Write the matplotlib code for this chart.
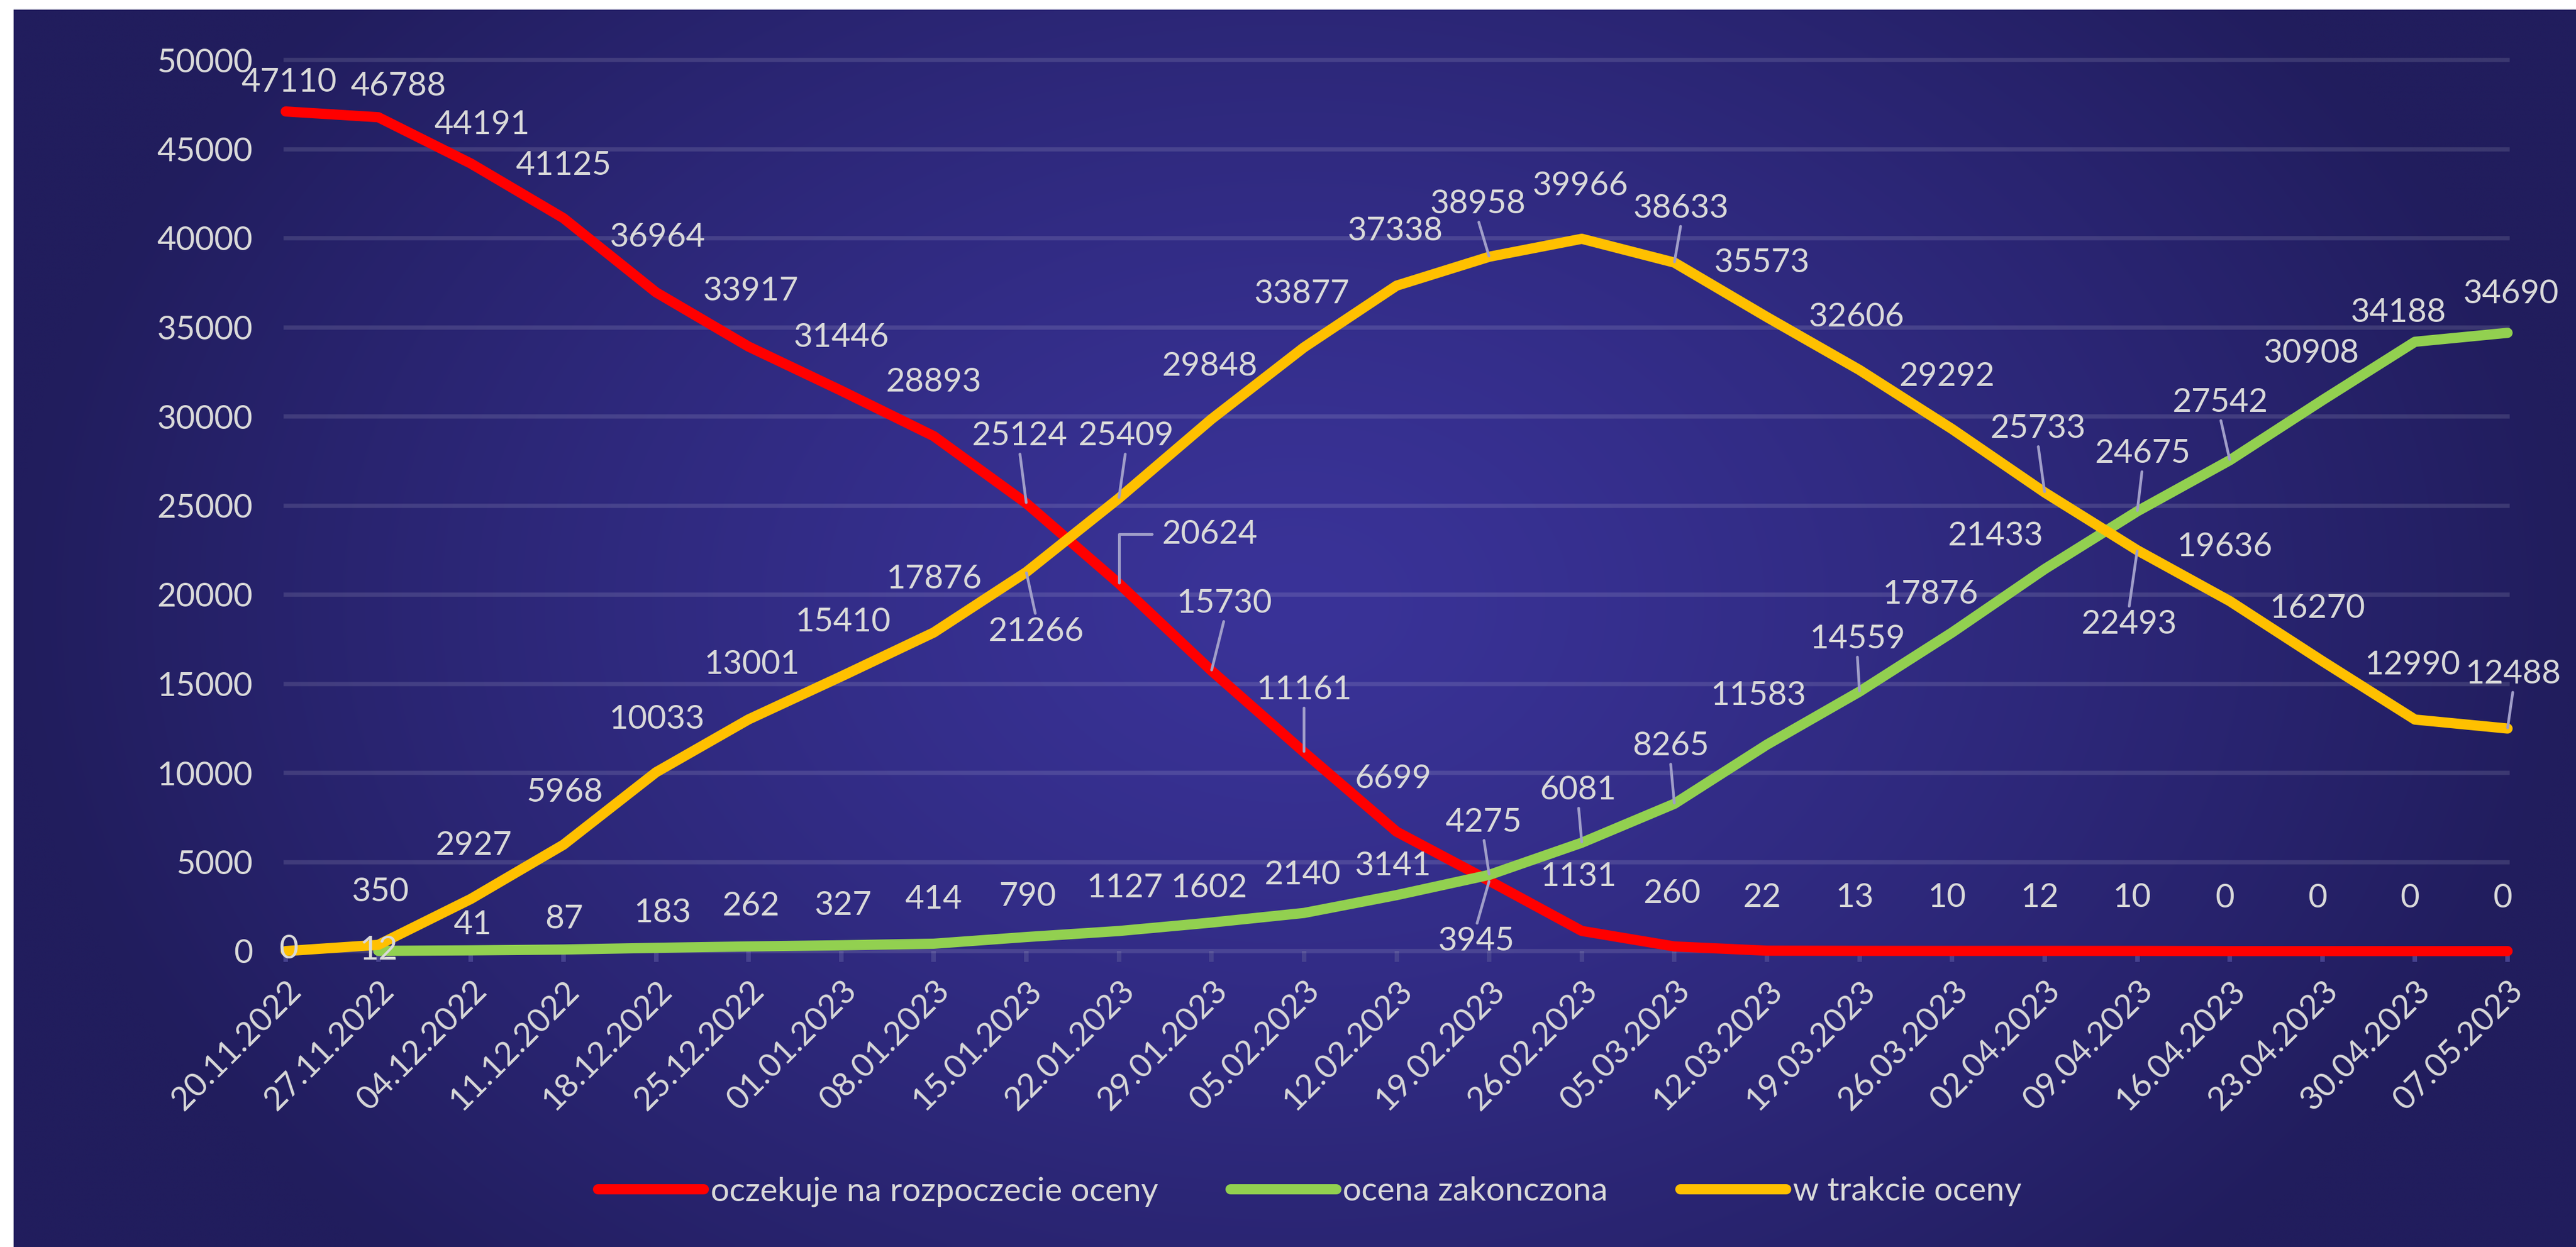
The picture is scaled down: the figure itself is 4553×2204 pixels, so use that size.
import numpy as np
import matplotlib
matplotlib.use('Agg')
import matplotlib.pyplot as plt

# dane
dates = ['20.11.2022', '27.11.2022', '04.12.2022', '11.12.2022', '18.12.2022',
         '25.12.2022', '01.01.2023', '08.01.2023', '15.01.2023', '22.01.2023',
         '29.01.2023', '05.02.2023', '12.02.2023', '19.02.2023', '26.02.2023',
         '05.03.2023', '12.03.2023', '19.03.2023', '26.03.2023', '02.04.2023',
         '09.04.2023', '16.04.2023', '23.04.2023', '30.04.2023', '07.05.2023']
oczekuje = [47110, 46788, 44191, 41125, 36964, 33917, 31446, 28893, 25124, 20624,
            15730, 11161, 6699, 3945, 1131, 260, 22, 13, 10, 12, 10, 0, 0, 0, 0]
zakonczona = [np.nan, 12, 41, 87, 183, 262, 327, 414, 790, 1127, 1602, 2140, 3141,
              4275, 6081, 8265, 11583, 14559, 17876, 21433, 24675, 27542, 30908,
              34188, 34690]
w_trakcie = [0, 350, 2927, 5968, 10033, 13001, 15410, 17876, 21266, 25409, 29848,
             33877, 37338, 38958, 39966, 38633, 35573, 32606, 29292, 25733, 22493,
             19636, 16270, 12990, 12488]
names = ['oczekuje na rozpoczecie oceny', 'ocena zakonczona', 'w trakcie oceny']

# polozenie etykiet (przesuniecie w pikselach od punktu)
off_red = [(6, 52), (35, 55), (20, 68), (0, 93), (3, 97), (4, 98), (0, 94), (0, 95),
           (-12, 119), (160, 87), (23, 119), (0, 110), (-6, 93), (-23, -107), (-6, 96),
           (-4, 93)] + [(-9, 94)] * 9
off_green = [(0, 0), (0, 1), (3, 45), (1, 54), (11, 62), (4, 71), (3, 70), (0, 78),
             (3, 72), (10, 76), (-4, 61), (-3, 67), (-6, 52), (-10, 93), (-6, 93),
             (-7, 102), (-15, 87), (-4, 93), (-38, 67), (-87, 58), (9, 102),
             (-17, 102), (-20, 83), (-29, 52), (6, 69)]
off_yellow = [(5, 3), (4, 93), (5, 94), (3, 93), (1, 93), (6, 97), (3, 96), (0, 94),
              (17, -105), (12, 110), (-3, 93), (-4, 94), (-3, 96), (-20, 93), (-3, 94),
              (12, 96), (-9, 96), (-5, 93), (-9, 93), (-12, 113), (-15, -131),
              (-9, 96), (-9, 93), (-4, 96), (10, 96)]
lead_red = [8, 10, 11, 13]
lead_green = [13, 14, 15, 17, 20, 21]
lead_yellow = [8, 9, 13, 15, 19, 20, 24]

W, H = 4553, 2204
DPI = 100
PT = 72.0 / DPI
FS = 42
TXT = '#D9D9D9'
LEAD = '#A09EC9'

plt.rcParams['font.family'] = ['Lato', 'DejaVu Sans']

fig = plt.figure(figsize=(W / DPI, H / DPI), dpi=DPI, facecolor='white')

# tlo z gradientem
bg = fig.add_axes([24 / W, 0, 1 - 24 / W, 1 - 17 / H], zorder=-5)
gx, gy = np.meshgrid(np.linspace(0, 1, 460), np.linspace(0, 1, 220))
t = np.sqrt(((gx - 0.5) / 0.5) ** 2 + ((gy - 0.48) / 0.75) ** 2)
t = np.clip(t, 0, 1) ** 1.3
c_mid = np.array([58, 51, 152]) / 255.0
c_edge = np.array([33, 29, 93]) / 255.0
img = c_mid[None, None, :] + (c_edge - c_mid)[None, None, :] * t[:, :, None]
bg.imshow(img, aspect='auto', extent=(0, 1, 0, 1), interpolation='bilinear')
bg.set_axis_off()

x0, x1, ytop, ybot = 505, 4432, 106, 1681
ax = fig.add_axes([x0 / W, 1 - ybot / H, (x1 - x0) / W, (ybot - ytop) / H])
ax.set_facecolor('none')
x = np.arange(len(dates))

colors = ['#FF0000', '#92D050', '#FFC000']
series = [oczekuje, zakonczona, w_trakcie]
lines = []
for s, c, n in zip(series, colors, names):
    ln, = ax.plot(x, s, color=c, lw=13, solid_capstyle='round', solid_joinstyle='round',
                  label=n, clip_on=False, zorder=3)
    lines.append(ln)

ax.set_xlim(0, len(dates) - 1)
ax.set_ylim(0, 50000)
ax.set_yticks(np.arange(0, 50001, 5000))
ax.set_yticklabels([str(v) for v in range(0, 50001, 5000)])
ax.set_xticks(x)
ax.set_xticklabels(dates, rotation=45, ha='right', va='top', rotation_mode='anchor')
ax.tick_params(axis='y', length=0, pad=58 * PT, labelsize=FS, labelcolor=TXT)
ax.tick_params(axis='x', length=19 * PT, width=8 * PT, color='#47438F', pad=24 * PT,
               labelsize=FS, labelcolor=TXT)
for sp in ax.spines.values():
    sp.set_visible(False)
ax.grid(axis='y', color='white', alpha=0.12, lw=7.5 * PT)
ax.set_axisbelow(True)
for gl in ax.yaxis.get_gridlines():
    gl.set_clip_on(False)


def put_labels(vals, offs, leaders, elbow=None):
    for i, v in enumerate(vals):
        if np.isnan(v):
            continue
        dx, dy = offs[i]
        kw = {}
        if i in leaders:
            kw['arrowprops'] = dict(arrowstyle='-', color=LEAD, lw=3.5, shrinkA=2, shrinkB=1,
                                    relpos=(0.5, 0) if dy > 0 else (0.5, 1))
        if elbow is not None and i == elbow:
            kw['arrowprops'] = dict(arrowstyle='-', color=LEAD, lw=3.5, shrinkA=10, shrinkB=1,
                                    relpos=(0, 0.5),
                                    connectionstyle='angle,angleA=0,angleB=90,rad=0')
        ax.annotate(str(int(v)), xy=(i, v), xytext=(dx * PT, dy * PT),
                    textcoords='offset points', ha='center', va='center', fontsize=FS,
                    color=TXT, zorder=10, annotation_clip=False, **kw)


put_labels(oczekuje, off_red, lead_red, elbow=9)
put_labels(zakonczona, off_green, lead_green)
put_labels(w_trakcie, off_yellow, lead_yellow)

fig.legend(handles=lines, loc='center', bbox_to_anchor=(2315 / W, 1 - 2106 / H),
           ncol=3, frameon=False, fontsize=FS, labelcolor=TXT, handlelength=3.2,
           handletextpad=0.2, columnspacing=2.2)

fig.savefig('out.png', dpi=DPI, facecolor='white')
